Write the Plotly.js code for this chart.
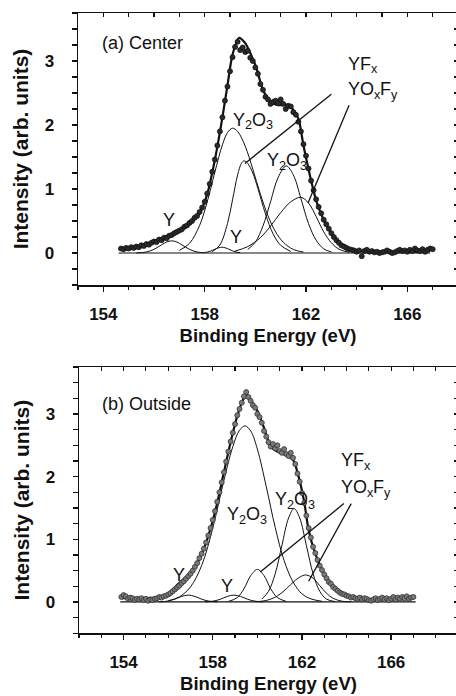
<!DOCTYPE html>
<html><head><meta charset="utf-8">
<script src="https://cdn.plot.ly/plotly-3.0.1.min.js"></script>
<style>html,body{margin:0;padding:0;overflow:hidden;background:#fff;} #chart{width:458px;height:696px;}</style>
</head><body><div id="chart"></div>
<script>
// ---------- Panel (a) Center ----------
const dotsAX = [154.7,154.8,154.9,155.0,155.1,155.2,155.3,155.4,155.5,155.6,155.7,155.8,155.9,156.0,156.1,156.2,156.3,156.4,156.5,156.6,156.7,156.8,156.9,157.0,157.1,157.2,157.3,157.4,157.5,157.6,157.7,157.8,157.9,158.0,158.1,158.2,158.3,158.4,158.5,158.6,158.7,158.8,158.9,159.0,159.1,159.2,159.3,159.4,159.5,159.6,159.7,159.8,159.9,160.0,160.1,160.2,160.3,160.4,160.5,160.6,160.7,160.8,160.9,161.0,161.1,161.2,161.3,161.4,161.5,161.6,161.7,161.8,161.9,162.0,162.1,162.2,162.3,162.4,162.5,162.6,162.7,162.8,162.9,163.0,163.1,163.2,163.3,163.4,163.5,163.6,163.7,163.8,163.9,164.0,164.1,164.2,164.3,164.4,164.5,164.6,164.7,164.8,164.9,165.0,165.1,165.2,165.3,165.4,165.5,165.6,165.7,165.8,165.9,166.0,166.1,166.2,166.3,166.4,166.5,166.6,166.7,166.8,166.9,167.0];
const dotsAY = [0.07,0.06,0.08,0.07,0.09,0.08,0.10,0.09,0.12,0.11,
  0.14,0.13,0.16,0.18,0.17,0.21,0.20,0.24,0.23,0.27,
  0.28,0.31,0.33,0.35,0.37,0.41,0.43,0.47,0.50,0.55,
  0.58,0.64,0.71,0.80,0.93,1.08,1.27,1.46,1.68,1.90,
  2.12,2.38,2.60,2.84,3.06,3.22,3.30,3.17,3.21,3.14,
  3.16,3.05,3.00,2.90,2.80,2.64,2.55,2.44,2.40,2.33,
  2.36,2.38,2.34,2.40,2.33,2.25,2.30,2.29,2.20,2.16,
  2.05,1.90,1.70,1.52,1.32,1.13,0.98,0.84,0.72,0.62,
  0.52,0.45,0.38,0.31,0.25,0.20,0.16,0.12,0.10,0.08,
  0.06,0.05,0.04,0.02,0.04,-0.05,0.03,0.05,0.02,0.03,
  0.01,0.02,0.00,0.01,0.02,0.04,0.02,0.00,0.01,0.03,
  0.05,0.03,0.04,0.02,0.05,0.03,0.07,0.04,0.03,0.06,
  0.02,0.05,0.07,0.06];
const envAX = [154.6,155.2,155.8,156.4,156.9,157.4,157.8,158.1,158.4,158.7,158.9,159.1,159.35,159.6,159.85,160.05,160.3,160.6,160.9,161.2,161.45,161.7,161.9,162.15,162.4,162.65,162.9,163.2,163.5,163.9,164.4,165.0,166.0,166.9];
const envAY = [0.06,0.09,0.16,0.25,0.34,0.46,0.62,0.92,1.45,2.12,2.62,3.10,3.36,3.28,3.08,2.88,2.55,2.36,2.31,2.32,2.26,2.10,1.68,1.22,0.82,0.56,0.37,0.19,0.11,0.05,0.02,0.02,0.02,0.03];
const baseAX = [154.6, 166.9];
const baseAY = [0, 0];
const yMetalA1X = [155.3,155.7,156.0,156.3,156.5,156.7,156.9,157.1,157.4,157.7,158.0];
const yMetalA1Y = [0.00,0.016,0.057,0.128,0.172,0.19,0.172,0.128,0.057,0.016,0.003];
const yMetalA2X = [158.0,158.2,158.4,158.55,158.68,158.8,159.0,159.2,159.4];
const yMetalA2Y = [0.007,0.025,0.058,0.082,0.09,0.083,0.051,0.02,0.005];
const y2o3A1X = [157.0,157.4,157.8,158.1,158.4,158.7,158.9,159.1,159.3,159.6,159.9,160.2,160.5,160.8,161.1,161.5,161.9];
const y2o3A1Y = [0.04,0.15,0.43,0.80,1.26,1.69,1.88,1.95,1.90,1.67,1.31,0.92,0.58,0.33,0.17,0.055,0.015];
const yfxAX = [158.3,158.6,158.9,159.1,159.3,159.45,159.55,159.7,159.9,160.1,160.4,160.7,161.0,161.4];
const yfxAY = [0.02,0.125,0.46,0.83,1.22,1.40,1.44,1.40,1.25,1.01,0.61,0.30,0.12,0.025];
const y2o3A2X = [159.7,160.0,160.3,160.6,160.9,161.22,161.5,161.8,162.1,162.4,162.7,163.0];
const y2o3A2Y = [0.055,0.17,0.42,0.80,1.18,1.36,1.22,0.85,0.46,0.20,0.065,0.017];
const yoxfyAX = [159.2,159.7,160.2,160.6,161.0,161.4,161.8,162.1,162.4,162.7,163.0,163.3,163.7];
const yoxfyAY = [0.03,0.10,0.24,0.42,0.63,0.80,0.87,0.78,0.57,0.33,0.16,0.06,0.01];

// ---------- Panel (b) Outside ----------
const dotsBX = [153.9,154.0,154.1,154.2,154.3,154.4,154.5,154.6,154.7,154.8,154.9,155.0,155.1,155.2,155.3,155.4,155.5,155.6,155.7,155.8,155.9,156.0,156.1,156.2,156.3,156.4,156.5,156.6,156.7,156.8,156.9,157.0,157.1,157.2,157.3,157.4,157.5,157.6,157.7,157.8,157.9,158.0,158.1,158.2,158.3,158.4,158.5,158.6,158.7,158.8,158.9,159.0,159.1,159.2,159.3,159.4,159.5,159.6,159.7,159.8,159.9,160.0,160.1,160.2,160.3,160.4,160.5,160.6,160.7,160.8,160.9,161.0,161.1,161.2,161.3,161.4,161.5,161.6,161.7,161.8,161.9,162.0,162.1,162.2,162.3,162.4,162.5,162.6,162.7,162.8,162.9,163.0,163.1,163.2,163.3,163.4,163.5,163.6,163.7,163.8,163.9,164.0,164.1,164.2,164.3,164.4,164.5,164.6,164.7,164.8,164.9,165.0,165.1,165.2,165.3,165.4,165.5,165.6,165.7,165.8,165.9,166.0,166.1,166.2,166.3,166.4,166.5,166.6,166.7,166.8,166.9,167.0];
const dotsBY = [0.08,0.11,0.09,0.05,0.07,0.06,0.03,0.05,0.04,0.06,
  0.03,0.05,0.02,0.04,0.03,0.05,0.06,0.08,0.07,0.09,
  0.10,0.12,0.14,0.17,0.20,0.23,0.26,0.30,0.33,0.37,
  0.41,0.45,0.50,0.56,0.62,0.70,0.77,0.85,0.95,1.06,
  1.18,1.31,1.45,1.60,1.75,1.91,2.07,2.24,2.40,2.56,
  2.70,2.84,2.98,3.08,3.18,3.28,3.35,3.27,3.21,3.14,
  3.10,3.00,2.95,2.86,2.73,2.64,2.55,2.48,2.52,2.45,
  2.50,2.41,2.38,2.44,2.36,2.33,2.38,2.30,2.20,2.05,
  1.92,1.74,1.58,1.38,1.18,1.03,0.88,0.78,0.67,0.58,
  0.51,0.44,0.38,0.32,0.29,0.24,0.21,0.18,0.15,0.13,
  0.12,0.10,0.09,0.07,0.08,0.06,0.05,0.07,0.04,0.06,
  0.05,0.03,0.02,0.04,0.06,0.03,0.05,0.07,0.04,0.06,
  0.03,0.05,0.08,0.04,0.07,0.05,0.08,0.06,0.09,0.05,
  0.07,0.08];
const envBX = [153.9,155.0,155.8,156.1,156.4,156.8,157.3,157.6,157.9,158.2,158.5,158.8,159.1,159.35,159.53,159.7,160.0,160.3,160.6,160.9,161.3,161.6,161.85,162.1,162.3,162.6,162.9,163.3,163.9,164.6,167.0];
const envBY = [0.06,0.06,0.09,0.15,0.27,0.40,0.62,0.85,1.17,1.58,2.07,2.55,2.97,3.22,3.30,3.22,3.05,2.78,2.48,2.40,2.34,2.27,2.00,1.60,1.15,0.77,0.51,0.29,0.13,0.05,0.05];
const baseBX = [153.85, 167.1];
const baseBY = [0, 0];
const yMetalB1X = [155.6,156.0,156.3,156.6,156.9,157.2,157.5,157.8,158.2];
const yMetalB1Y = [0.002,0.015,0.045,0.088,0.11,0.088,0.045,0.015,0.002];
const yMetalB2X = [157.65,158.05,158.35,158.65,158.95,159.25,159.55,159.85,160.25];
const yMetalB2Y = [0.002,0.015,0.045,0.088,0.11,0.088,0.045,0.015,0.002];
const y2o3B1X = [156.0,156.5,157.0,157.5,158.0,158.5,158.9,159.2,159.45,159.7,160.0,160.4,160.8,161.2,161.6,162.0,162.4,162.9];
const y2o3B1Y = [0.02,0.08,0.24,0.58,1.18,1.94,2.48,2.74,2.81,2.73,2.44,1.84,1.19,0.66,0.32,0.13,0.05,0.01];
const yfxBX = [158.7,159.1,159.4,159.7,160.0,160.3,160.6,160.9,161.3];
const yfxBY = [0.008,0.07,0.21,0.42,0.52,0.42,0.21,0.07,0.008];
const y2o3B2X = [160.2,160.5,160.8,161.1,161.4,161.65,161.9,162.2,162.5,162.8,163.1,163.5];
const y2o3B2Y = [0.046,0.17,0.45,0.90,1.34,1.49,1.34,0.90,0.45,0.17,0.046,0.005];
const yoxfyBX = [159.9,160.4,160.9,161.3,161.7,162.0,162.2,162.5,162.8,163.1,163.4,163.8,164.2];
const yoxfyBY = [0.004,0.024,0.096,0.21,0.345,0.415,0.43,0.38,0.26,0.14,0.058,0.012,0.002];

// ---------- build ----------
const FONT = 'Liberation Sans, Arial, Helvetica, sans-serif';
function comp(x, y, xa, ya) {
  return {x: x, y: y, xaxis: xa, yaxis: ya, type: 'scatter', mode: 'lines',
    line: {color: '#111', width: 1, shape: 'spline', smoothing: 1}, hoverinfo: 'skip', showlegend: false};
}
function env(x, y, xa, ya) {
  return {x: x, y: y, xaxis: xa, yaxis: ya, type: 'scatter', mode: 'lines',
    line: {color: '#111', width: 2.2, shape: 'spline', smoothing: 0.8}, hoverinfo: 'skip', showlegend: false};
}
function dots(x, y, xa, ya, fill, edge) {
  return {x: x, y: y, xaxis: xa, yaxis: ya, type: 'scatter', mode: 'markers',
    marker: {size: 5, color: fill, line: {color: edge, width: 0.8}}, hoverinfo: 'skip', showlegend: false};
}
function base(x, y, xa, ya) {
  return {x: x, y: y, xaxis: xa, yaxis: ya, type: 'scatter', mode: 'lines',
    line: {color: '#111', width: 1.2}, hoverinfo: 'skip', showlegend: false};
}
const traces = [
  base(baseAX, baseAY, 'x', 'y'),
  comp(yMetalA1X, yMetalA1Y, 'x', 'y'),
  comp(yMetalA2X, yMetalA2Y, 'x', 'y'),
  comp(y2o3A1X, y2o3A1Y, 'x', 'y'),
  comp(yfxAX, yfxAY, 'x', 'y'),
  comp(y2o3A2X, y2o3A2Y, 'x', 'y'),
  comp(yoxfyAX, yoxfyAY, 'x', 'y'),
  env(envAX, envAY, 'x', 'y'),
  dots(dotsAX, dotsAY, 'x', 'y', '#2a2a2a', '#111'),
  base(baseBX, baseBY, 'x2', 'y2'),
  comp(yMetalB1X, yMetalB1Y, 'x2', 'y2'),
  comp(yMetalB2X, yMetalB2Y, 'x2', 'y2'),
  comp(y2o3B1X, y2o3B1Y, 'x2', 'y2'),
  comp(yfxBX, yfxBY, 'x2', 'y2'),
  comp(y2o3B2X, y2o3B2Y, 'x2', 'y2'),
  comp(yoxfyBX, yoxfyBY, 'x2', 'y2'),
  env(envBX, envBY, 'x2', 'y2'),
  dots(dotsBX, dotsBY, 'x2', 'y2', '#7a7a7a', '#333'),
  {x: [null], y: [null], xaxis: 'x3', yaxis: 'y3', type: 'scatter', mode: 'markers', showlegend: false, hoverinfo: 'skip'},
  {x: [null], y: [null], xaxis: 'x4', yaxis: 'y4', type: 'scatter', mode: 'markers', showlegend: false, hoverinfo: 'skip'}
];

const tickFont = {family: FONT, size: 17, color: '#111', weight: 'bold'};
function xAxis(domain, range, anchor) {
  return {domain: domain, range: range, anchor: anchor, tickmode: 'linear', tick0: 154, dtick: 4,
    ticks: 'outside', ticklen: 5, tickwidth: 1.3, tickcolor: '#111',
    minor: {tickmode: 'linear', tick0: 150, dtick: 1, ticks: 'outside', ticklen: 3, tickwidth: 1.2, tickcolor: '#111'},
    showline: true, linecolor: '#111', linewidth: 1.5, mirror: false, showgrid: false, zeroline: false,
    tickfont: tickFont, ticklabelstandoff: 8,
    title: {text: 'Binding Energy (eV)', font: {family: FONT, size: 18.5, color: '#111', weight: 'bold'}, standoff: 6}};
}
function yAxis(domain, anchor) {
  return {domain: domain, range: [-0.5, 3.75], anchor: anchor, tickmode: 'linear', tick0: 0, dtick: 1,
    ticks: 'outside', ticklen: 5, tickwidth: 1.3, tickcolor: '#111',
    minor: {tickmode: 'linear', tick0: 0, dtick: 0.25, ticks: 'outside', ticklen: 5, tickwidth: 1.2, tickcolor: '#111'},
    showline: true, linecolor: '#111', linewidth: 1.5, mirror: false, showgrid: false, zeroline: false,
    tickfont: tickFont, ticklabelstandoff: 14,
    title: {text: 'Intensity (arb. units)', font: {family: FONT, size: 21, color: '#111', weight: 'bold'}, standoff: 10}};
}
// overlay axes: top and right frame edges with inward-pointing ticks
function xIn(over, range, anchor) {
  return {overlaying: over, anchor: anchor, side: 'top', range: range, tickmode: 'linear', tick0: 150, dtick: 1,
    ticks: 'inside', ticklen: 4, tickwidth: 1.2, tickcolor: '#111', showticklabels: false,
    showline: true, linecolor: '#111', linewidth: 1.5, showgrid: false, zeroline: false};
}
function yIn(over, anchor) {
  return {overlaying: over, anchor: anchor, side: 'right', range: [-0.5, 3.75], tickmode: 'linear', tick0: 0, dtick: 0.25,
    ticks: 'inside', ticklen: 4, tickwidth: 1.2, tickcolor: '#111', showticklabels: false,
    showline: true, linecolor: '#111', linewidth: 1.5, showgrid: false, zeroline: false};
}

const domA = [1 - 285 / 696, 1 - 13 / 696];
const domB = [1 - 633.3 / 696, 1 - 367 / 696];
const rangeA = [153, 168];
const rangeB = [152, 169];

// labels: each piece is [text, x-offset in px, subscript?]
const MAIN = 18, SUB = 12.6;
function lab(pieces, x, y, xr, yr) {
  return pieces.map(function (p) {
    return {text: p[0], x: x, y: y, xref: xr, yref: yr, showarrow: false, xanchor: 'left', yanchor: 'middle',
      xshift: p[1], yshift: p[2] ? -5.5 : 0, borderpad: 0, borderwidth: 0,
      font: {family: FONT, size: p[2] ? SUB : MAIN, color: '#111'}};
  });
}
function labC(text, x, y, xr, yr) {
  return [{text: text, x: x, y: y, xref: xr, yref: yr, showarrow: false, xanchor: 'center', yanchor: 'middle',
    borderpad: 0, borderwidth: 0, font: {family: FONT, size: MAIN, color: '#111'}}];
}
const YFX = [['YF', 0], ['x', 23, true]];
const YOXFY = [['YO', 0], ['x', 26, true], ['F', 32.3], ['y', 43.3, true]];
const Y2O3 = [['Y', 0], ['2', 12, true], ['O', 19], ['3', 33, true]];
const annotations = [].concat(
  lab([['(a) Center', 0]], 153.96, 3.28, 'x', 'y'),
  lab(YFX, 163.65, 2.96, 'x', 'y'),
  lab(YOXFY, 163.65, 2.56, 'x', 'y'),
  lab(Y2O3, 159.12, 2.08, 'x', 'y'),
  lab(Y2O3, 160.45, 1.45, 'x', 'y'),
  labC('Y', 156.6, 0.52, 'x', 'y'),
  labC('Y', 159.24, 0.25, 'x', 'y'),
  lab([['(b) Outside', 0]], 153.01, 3.16, 'x2', 'y2'),
  lab(YFX, 163.73, 2.26, 'x2', 'y2'),
  lab(YOXFY, 163.73, 1.83, 'x2', 'y2'),
  lab(Y2O3, 158.64, 1.40, 'x2', 'y2'),
  lab(Y2O3, 160.8, 1.64, 'x2', 'y2'),
  labC('Y', 156.48, 0.43, 'x2', 'y2'),
  labC('Y', 158.64, 0.25, 'x2', 'y2')
);
function ptr(x0, y0, x1, y1, xr, yr) {
  return {type: 'line', x0: x0, y0: y0, x1: x1, y1: y1, xref: xr, yref: yr, line: {color: '#111', width: 1.3}};
}
const shapes = [
  ptr(163.0, 2.48, 159.59, 1.40, 'x', 'y'),
  ptr(163.70, 2.31, 162.08, 0.78, 'x', 'y'),
  ptr(163.88, 1.57, 160.13, 0.48, 'x2', 'y2'),
  ptr(164.21, 1.57, 162.30, 0.33, 'x2', 'y2')
];

const layout = {
  width: 458, height: 696, margin: {l: 0, r: 0, t: 0, b: 0},
  paper_bgcolor: '#fff', plot_bgcolor: '#fff', showlegend: false,
  font: {family: FONT, color: '#111'},
  xaxis: xAxis([78 / 458, 1], rangeA, 'y'),
  yaxis: yAxis(domA, 'x'),
  xaxis2: xAxis([79 / 458, 1], rangeB, 'y2'),
  yaxis2: yAxis(domB, 'x2'),
  xaxis3: xIn('x', rangeA, 'y'),
  yaxis3: yIn('y', 'x'),
  xaxis4: xIn('x2', rangeB, 'y2'),
  yaxis4: yIn('y2', 'x2'),
  annotations: annotations,
  shapes: shapes
};
Plotly.newPlot('chart', traces, layout, {staticPlot: true, displayModeBar: false});
</script></body></html>
